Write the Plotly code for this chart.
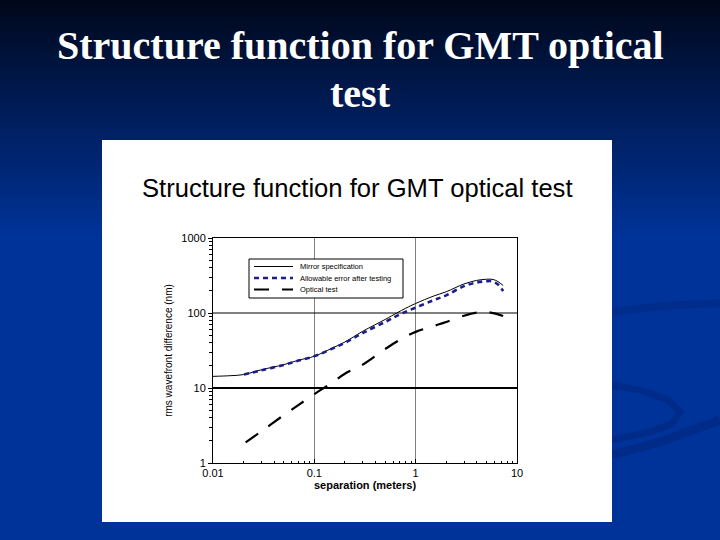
import plotly.graph_objects as go

# ---------------- data ----------------
mirror_x = [0.01, 0.015, 0.02, 0.03, 0.05, 0.07, 0.1, 0.15, 0.2, 0.3, 0.5, 0.65, 0.8, 1, 1.5, 2, 3, 4, 5, 5.8, 6.5, 7.3]
mirror_y = [14.3, 14.6, 15.1, 17.5, 20.5, 23.5, 26.5, 34, 41, 57, 82, 100, 116, 134, 168, 192, 244, 272, 282, 280, 262, 233]

allow_x = [0.0202, 0.03, 0.05, 0.07, 0.1, 0.15, 0.2, 0.3, 0.5, 0.7, 1, 1.5, 2, 3, 4, 5, 5.6, 6.5, 7.3]
allow_y = [15.1, 17.2, 20.3, 23.2, 26.5, 33.5, 40, 54, 76, 96, 118, 148, 172, 228, 255, 265, 265, 240, 196]

optical_x = [0.021, 0.03, 0.05, 0.07, 0.1, 0.15, 0.2, 0.3, 0.5, 0.7, 1, 1.5, 2, 3, 4, 5, 6, 7.3]
optical_y = [1.88, 2.65, 4.35, 5.95, 8.3, 11.8, 15.5, 20.5, 33, 44, 56, 67, 76, 92, 101, 103, 99, 91]

series_names = ["Mirror specification", "Allowable error after testing", "Optical test"]

x_tickvals = [0.01, 0.1, 1, 10]
x_ticktext = ["0.01", "0.1", "1", "10"]
y_tickvals = [1, 10, 100, 1000]
y_ticktext = ["1", "10", "100", "1000"]
hline_vals = [100, 10]

slide_title_lines = ["Structure function for GMT optical", "test"]
chart_title = "Structure function for GMT optical test"
x_title = "separation (meters)"
y_title = "rms wavefront difference (nm)"

# ---------------- layout geometry (pixels) ----------------
W, H = 720, 540
L, R, T, B = 213, 517, 238, 463
pw, ph = R - L, B - T


def px(xp):
    return (xp - L) / pw


def py(yp):
    return (B - yp) / ph


styles = [
    dict(color="black", width=1),
    dict(color="#1c1c8c", width=2.6, dash="5px,4px"),
    dict(color="black", width=2.2, dash="15px,13px"),
]

fig = go.Figure()

# horizontal reference lines (drawn as traces on the data axes)
fig.add_trace(go.Scatter(x=[0.01, 10], y=[hline_vals[0]] * 2, mode="lines",
                         line=dict(color="black", width=1), showlegend=False, hoverinfo="skip"))
fig.add_trace(go.Scatter(x=[0.01, 10], y=[hline_vals[1]] * 2, mode="lines",
                         line=dict(color="black", width=2.2), showlegend=False, hoverinfo="skip"))

for xs, ys, nm, st in zip([mirror_x, allow_x, optical_x], [mirror_y, allow_y, optical_y], series_names, styles):
    fig.add_trace(go.Scatter(x=xs, y=ys, mode="lines", name=nm, showlegend=False,
                             line=dict(shape="spline", **st)))

# ---------------- background shapes ----------------
shapes = []
top = (0, 6, 22)
bot = (0, 51, 153)
nb = 60
gh = 240
for i in range(nb):
    y0 = gh * i / nb
    y1 = gh * (i + 1) / nb + 0.8
    t = ((i + 0.5) / nb) ** 0.9
    c = tuple(int(round(top[k] + (bot[k] - top[k]) * t)) for k in range(3))
    shapes.append(dict(type="rect", xref="paper", yref="paper", layer="below",
                       x0=px(0), x1=px(W), y0=py(y1), y1=py(y0),
                       fillcolor="rgb(%d,%d,%d)" % c, line=dict(width=0)))
shapes.append(dict(type="rect", xref="paper", yref="paper", layer="below",
                   x0=px(0), x1=px(W), y0=py(H), y1=py(gh),
                   fillcolor="rgb(0,51,153)", line=dict(width=0)))


def path(points):
    s = "M %f,%f" % (px(points[0][0]), py(points[0][1]))
    for p in points[1:]:
        s += " L %f,%f" % (px(p[0]), py(p[1]))
    return s


# faint decorative swooshes on the right
shapes.append(dict(type="path", xref="paper", yref="paper", layer="below",
                   path=path([(605, 384), (640, 390), (668, 400), (680, 412), (672, 424), (650, 432), (612, 440)]),
                   line=dict(color="rgba(0,35,120,0.5)", width=7)))
shapes.append(dict(type="path", xref="paper", yref="paper", layer="below",
                   path=path([(612, 455), (660, 442), (720, 420)]),
                   line=dict(color="rgba(0,35,120,0.5)", width=9)))
shapes.append(dict(type="path", xref="paper", yref="paper", layer="below",
                   path=path([(612, 312), (660, 306), (720, 303)]),
                   line=dict(color="rgba(0,35,120,0.4)", width=8)))

# white panel
shapes.append(dict(type="rect", xref="paper", yref="paper", layer="below",
                   x0=px(102), x1=px(612), y0=py(522), y1=py(140),
                   fillcolor="white", line=dict(width=0)))

# legend box (drawn manually to match the compact original)
lg_x0, lg_x1, lg_y0, lg_y1 = 249, 403, 259, 298
shapes.append(dict(type="rect", xref="paper", yref="paper", layer="above",
                   x0=px(lg_x0), x1=px(lg_x1), y0=py(lg_y1), y1=py(lg_y0),
                   fillcolor="white", line=dict(color="black", width=1)))
row_y = [266.5, 278, 289.5]
annotations = []
for nm, st, ry in zip(series_names, styles, row_y):
    shapes.append(dict(type="line", xref="paper", yref="paper", layer="above",
                       x0=px(254), x1=px(293), y0=py(ry), y1=py(ry), line=st))
    annotations.append(dict(text=nm, xref="paper", yref="paper", x=px(298), y=py(ry),
                            xanchor="left", yanchor="middle", showarrow=False,
                            font=dict(family="Liberation Sans, Arial, sans-serif", size=7.5, color="black")))

annotations += [
    dict(text="<b>" + slide_title_lines[0] + "</b>", xref="paper", yref="paper",
         x=px(360), y=py(45), xanchor="center", yanchor="middle", showarrow=False,
         font=dict(family="Liberation Serif, Times New Roman, serif", size=40, color="white")),
    dict(text="<b>" + slide_title_lines[1] + "</b>", xref="paper", yref="paper",
         x=px(360), y=py(93), xanchor="center", yanchor="middle", showarrow=False,
         font=dict(family="Liberation Serif, Times New Roman, serif", size=40, color="white")),
    dict(text=chart_title, xref="paper", yref="paper",
         x=px(357), y=py(188), xanchor="center", yanchor="middle", showarrow=False,
         font=dict(family="Liberation Sans, Arial, sans-serif", size=25.6, color="black")),
]

fig.update_layout(
    width=W, height=H,
    margin=dict(l=L, r=W - R, t=T, b=H - B, pad=0),
    paper_bgcolor="rgb(0,51,153)",
    plot_bgcolor="rgba(0,0,0,0)",
    shapes=shapes,
    annotations=annotations,
    font=dict(family="Liberation Sans, Arial, sans-serif", color="black"),
    showlegend=False,
)

fig.update_xaxes(
    type="log", range=[-2, 1],
    tickvals=x_tickvals, ticktext=x_ticktext,
    showgrid=True, gridcolor="#808080", gridwidth=1,
    showline=True, linecolor="black", linewidth=1, mirror=True,
    ticks="inside", ticklen=4, tickcolor="black",
    minor=dict(ticks="inside", ticklen=2, tickcolor="black", dtick="D1", showgrid=False),
    tickfont=dict(size=11, color="black"),
    title=dict(text="<b>" + x_title + "</b>", font=dict(size=11, color="black"), standoff=2),
    zeroline=False,
)
fig.update_yaxes(
    type="log", range=[0, 3],
    tickvals=y_tickvals, ticktext=y_ticktext,
    showgrid=False,
    showline=True, linecolor="black", linewidth=1, mirror=True,
    ticks="outside", ticklen=4, tickcolor="black",
    minor=dict(ticks="outside", ticklen=3, tickcolor="black", dtick="D1", showgrid=False),
    tickfont=dict(size=11, color="black"),
    title=dict(text=y_title, font=dict(size=10, color="black"), standoff=6),
    zeroline=False,
)

fig.write_html("out.html", config={"displayModeBar": False},
               post_script="document.body.style.margin='0';document.body.style.padding='0';")
